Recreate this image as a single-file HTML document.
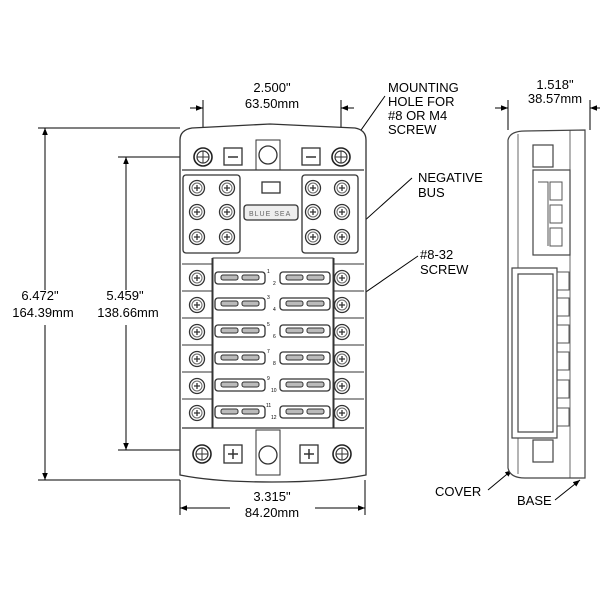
<!DOCTYPE html>
<html><head><style>body{margin:0;background:#fff}svg{display:block}text{font-family:"Liberation Sans",sans-serif;font-size:13px;fill:#000}text.n{font-size:5px}text.l{font-size:7px;letter-spacing:1px;fill:#666}</style></head><body>
<svg width="600" height="600" viewBox="0 0 600 600" xmlns="http://www.w3.org/2000/svg">
<defs>
<marker id="a" viewBox="0 0 10 10" refX="10" refY="5" markerWidth="7" markerHeight="7" orient="auto-start-reverse"><path d="M0,1 L10,5 L0,9z" fill="#000"/></marker>
<g id="scr"><circle r="7.5" fill="#fff" stroke="#333" stroke-width="1.3"/><circle r="5" fill="none" stroke="#666" stroke-width="1"/><path d="M-3,0H3M0,-3V3" stroke="#333" stroke-width="1.3"/></g>
<g id="hole"><circle r="9" fill="#fff" stroke="#222" stroke-width="1.6"/><circle r="6" fill="none" stroke="#333" stroke-width="1.2"/><path d="M-6,0H6M0,-6V6" stroke="#333" stroke-width="1"/></g>
<g id="fuse"><rect x="0" y="-6" width="50" height="12" rx="3" fill="#fff" stroke="#333" stroke-width="1.3"/><rect x="6" y="-3" width="17" height="5" rx="2" fill="#bbb" stroke="#333"/><rect x="27" y="-3" width="17" height="5" rx="2" fill="#bbb" stroke="#333"/></g>
</defs>
<g stroke="#000" stroke-width="1" fill="none">
<path d="M203,100V150M341,100V150"/>
<line x1="190" y1="108" x2="203" y2="108" marker-end="url(#a)"/>
<line x1="354" y1="108" x2="341" y2="108" marker-end="url(#a)"/>
<path d="M38,128H180M38,480H180"/>
<line x1="45" y1="290" x2="45" y2="128" marker-end="url(#a)"/>
<line x1="45" y1="325" x2="45" y2="480" marker-end="url(#a)"/>
<path d="M118,157H195M118,450H195"/>
<line x1="126" y1="290" x2="126" y2="157" marker-end="url(#a)"/>
<line x1="126" y1="325" x2="126" y2="450" marker-end="url(#a)"/>
<path d="M180,480V515M365,480V515"/>
<line x1="230" y1="508" x2="180" y2="508" marker-end="url(#a)"/>
<line x1="315" y1="508" x2="365" y2="508" marker-end="url(#a)"/>
<path d="M508,100V130M590,100V130"/>
<line x1="495" y1="108" x2="508" y2="108" marker-end="url(#a)"/>
<line x1="600" y1="108" x2="590" y2="108" marker-end="url(#a)"/>
<line x1="385" y1="96" x2="347" y2="150" marker-end="url(#a)"/>
<line x1="412" y1="178" x2="352" y2="232" marker-end="url(#a)"/>
<line x1="418" y1="256" x2="347" y2="305" marker-end="url(#a)"/>
<line x1="488" y1="490" x2="512" y2="470" marker-end="url(#a)"/>
<line x1="555" y1="500" x2="580" y2="480" marker-end="url(#a)"/>
</g>
<g stroke="#333" stroke-width="1.3" fill="#fff">
<path d="M180,475V140Q180,130 192,128L270,124L355,128Q366,130 366,140V475Q330,482 272,482Q214,482 180,475Z"/>
<path d="M182,170H364M182,428H364" fill="none"/>
<rect x="183" y="175" width="57" height="78" rx="3"/>
<rect x="302" y="175" width="56" height="78" rx="3"/>
<rect x="213" y="258" width="120" height="170" fill="none" stroke-width="1"/>
<rect x="262" y="182" width="18" height="11"/>
<rect x="244" y="205" width="54" height="15" rx="3" fill="#eee"/>
<rect x="224" y="148" width="18" height="17"/><rect x="302" y="148" width="18" height="17"/>
<rect x="224" y="445" width="18" height="18"/><rect x="300" y="445" width="18" height="18"/>
<rect x="256" y="140" width="24" height="30" fill="none" stroke-width="1"/>
<rect x="256" y="430" width="24" height="45" fill="none" stroke-width="1"/>
<circle cx="268" cy="155" r="9"/><circle cx="268" cy="455" r="9"/>
</g>
<path d="M228,157H238M306,157H316" stroke="#333" stroke-width="1.5"/>
<path d="M228,454H238M233,449V459M304,454H314M309,449V459" stroke="#333" stroke-width="1.5"/>
<text class="l" x="249" y="216">BLUE SEA</text>
<use href="#hole" x="203" y="157"/><use href="#hole" x="341" y="157"/>
<use href="#hole" x="202" y="454"/><use href="#hole" x="342" y="454"/>
<g>
<use href="#scr" x="197" y="188"/><use href="#scr" x="227" y="188"/><use href="#scr" x="313" y="188"/><use href="#scr" x="342" y="188"/>
<use href="#scr" x="197" y="212"/><use href="#scr" x="227" y="212"/><use href="#scr" x="313" y="212"/><use href="#scr" x="342" y="212"/>
<use href="#scr" x="197" y="237"/><use href="#scr" x="227" y="237"/><use href="#scr" x="313" y="237"/><use href="#scr" x="342" y="237"/>
</g>
<g stroke="#333" stroke-width="1" fill="none">
<path d="M182,264H212M182,291H212M182,318H212M182,345H212M182,372H212M182,399H212M334,264H364M334,291H364M334,318H364M334,345H364M334,372H364M334,399H364"/>
<path d="M212,258V428M334,258V428"/>
</g>
<g>
<use href="#scr" x="197" y="278"/><use href="#scr" x="342" y="278"/><use href="#fuse" x="215" y="278"/><use href="#fuse" x="280" y="278"/>
<use href="#scr" x="197" y="305"/><use href="#scr" x="342" y="305"/><use href="#fuse" x="215" y="304"/><use href="#fuse" x="280" y="304"/>
<use href="#scr" x="197" y="332"/><use href="#scr" x="342" y="332"/><use href="#fuse" x="215" y="331"/><use href="#fuse" x="280" y="331"/>
<use href="#scr" x="197" y="359"/><use href="#scr" x="342" y="359"/><use href="#fuse" x="215" y="358"/><use href="#fuse" x="280" y="358"/>
<use href="#scr" x="197" y="386"/><use href="#scr" x="342" y="386"/><use href="#fuse" x="215" y="385"/><use href="#fuse" x="280" y="385"/>
<use href="#scr" x="197" y="413"/><use href="#scr" x="342" y="413"/><use href="#fuse" x="215" y="412"/><use href="#fuse" x="280" y="412"/>
</g>
<text class="n" x="267" y="273">1</text><text class="n" x="273" y="285">2</text>
<text class="n" x="267" y="299">3</text><text class="n" x="273" y="311">4</text>
<text class="n" x="267" y="326">5</text><text class="n" x="273" y="338">6</text>
<text class="n" x="267" y="353">7</text><text class="n" x="273" y="365">8</text>
<text class="n" x="267" y="380">9</text><text class="n" x="271" y="392">10</text>
<text class="n" x="266" y="407">11</text><text class="n" x="271" y="419">12</text>
<g stroke="#444" stroke-width="1.2" fill="#fff">
<path d="M508,140Q510,131 525,131L585,130V478L525,478Q510,478 508,468Z"/>
<path d="M518,134V474M570,130V478" fill="none" stroke-width="0.8"/>
<rect x="533" y="170" width="37" height="85"/>
<rect x="512" y="268" width="45" height="170"/>
<rect x="518" y="274" width="35" height="158" fill="none"/>
<rect x="533" y="145" width="20" height="22"/><rect x="533" y="440" width="20" height="22"/>
</g>
<g stroke="#555" stroke-width="1" fill="none">
<path d="M550,182h12v18h-12zM550,205h12v18h-12zM550,228h12v18h-12zM538,182h10v64"/>
<path d="M557,272h12v18h-12zM557,298h12v18h-12zM557,325h12v18h-12zM557,352h12v18h-12zM557,380h12v18h-12zM557,408h12v18h-12z"/>
</g>
<g text-anchor="middle">
<text x="272" y="92">2.500"</text><text x="272" y="108">63.50mm</text>
<text x="40" y="300">6.472"</text><text x="43" y="317">164.39mm</text>
<text x="125" y="300">5.459"</text><text x="128" y="317">138.66mm</text>
<text x="272" y="501">3.315"</text><text x="272" y="517">84.20mm</text>
<text x="555" y="89">1.518"</text><text x="555" y="103">38.57mm</text>
</g>
<text x="388" y="92">MOUNTING</text><text x="388" y="106">HOLE FOR</text><text x="388" y="120">#8 OR M4</text><text x="388" y="134">SCREW</text>
<text x="418" y="182">NEGATIVE</text><text x="418" y="197">BUS</text>
<text x="420" y="259">#8-32</text><text x="420" y="274">SCREW</text>
<text x="435" y="496">COVER</text>
<text x="517" y="505">BASE</text>
</svg>
</body></html>
